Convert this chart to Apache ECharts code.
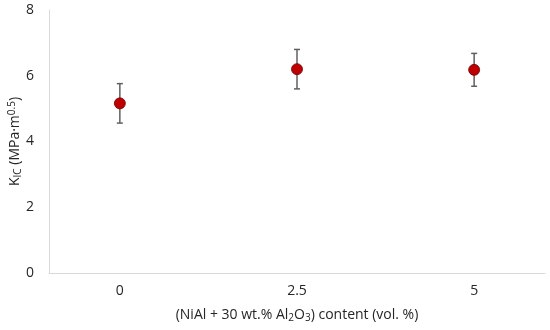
<!DOCTYPE html>
<html><head><meta charset="utf-8">
<script src="https://cdn.jsdelivr.net/npm/echarts@6/dist/echarts.min.js"></script>
<style>html,body{margin:0;padding:0;background:#fff}#c{width:550px;height:330px}</style>
</head><body><div id="c"></div>
<script>
const contents = [0, 2.5, 5];
const kic = [5.16, 6.2, 6.18];
const errs = [0.6, 0.6, 0.5];
const xTickLabels = ['0', '2.5', '5'];
const yTicks = [0, 2, 4, 6, 8];

const pts = contents.map((x, i) => [x, kic[i]]);
const errData = contents.map((x, i) => [x, kic[i] - errs[i], kic[i] + errs[i]]);
const FONT = '"Open Sans", "Liberation Sans", sans-serif';
const TC = '#262626';

const chart = echarts.init(document.getElementById('c'));
chart.setOption({
  animation: false,
  grid: {left: 49, right: 5, top: 10, bottom: 57, containLabel: false, outerBoundsMode: 'none'},
  xAxis: {
    type: 'value', min: -1, max: 6, interval: 0.5,
    axisLine: {show: true, onZero: false, lineStyle: {color: '#d9d9d9', width: 1}},
    axisTick: {show: false},
    splitLine: {show: false},
    axisLabel: {
      fontFamily: FONT, fontSize: 14, color: TC, margin: 11,
      formatter: v => xTickLabels.includes(String(v)) ? String(v) : ''
    },
    name: '{a|(NiAl + 30 wt.% Al}{s|2}{a|O}{s|3}{a|) content (vol. %)}',
    nameLocation: 'middle', nameGap: 34, nameMoveOverlap: false,
    nameTextStyle: {rich: {
      a: {fontFamily: FONT, fontSize: 14, color: TC},
      s: {fontFamily: FONT, fontSize: 10, color: TC, verticalAlign: 'bottom', padding: [6, 0, 0, 0]}
    }}
  },
  yAxis: {
    type: 'value', min: 0, max: 8, interval: 2,
    axisLine: {show: true, onZero: false, lineStyle: {color: '#d9d9d9', width: 1}},
    axisTick: {show: false},
    splitLine: {show: false},
    axisLabel: {fontFamily: FONT, fontSize: 14, color: TC, margin: 15},
    name: '{a|K}{s|IC}{a| (MPa·m}{p|0.5}{a|)}',
    nameLocation: 'middle', nameGap: 26, nameMoveOverlap: false,
    nameTextStyle: {rich: {
      a: {fontFamily: FONT, fontSize: 14, color: TC},
      s: {fontFamily: FONT, fontSize: 10, color: TC, verticalAlign: 'bottom', padding: [6, 0, 0, 0]},
      p: {fontFamily: FONT, fontSize: 10, color: TC, verticalAlign: 'top', padding: [0, 0, 6, 0]}
    }}
  },
  series: [
    {
      type: 'custom',
      data: errData,
      z: 1,
      renderItem: function (params, api) {
        const x = api.value(0);
        const lo = api.coord([x, api.value(1)]);
        const hi = api.coord([x, api.value(2)]);
        const w = 3;
        const st = {stroke: '#606060', lineWidth: 1.5};
        return {type: 'group', children: [
          {type: 'line', shape: {x1: lo[0], y1: lo[1], x2: hi[0], y2: hi[1]}, style: st},
          {type: 'line', shape: {x1: lo[0] - w, y1: lo[1], x2: lo[0] + w, y2: lo[1]}, style: st},
          {type: 'line', shape: {x1: hi[0] - w, y1: hi[1], x2: hi[0] + w, y2: hi[1]}, style: st}
        ]};
      }
    },
    {
      type: 'scatter',
      data: pts,
      z: 2,
      symbol: 'circle', symbolSize: 11,
      itemStyle: {color: '#C00000', borderColor: '#6a0000', borderWidth: 0.8, opacity: 1}
    }
  ]
});
</script></body></html>
